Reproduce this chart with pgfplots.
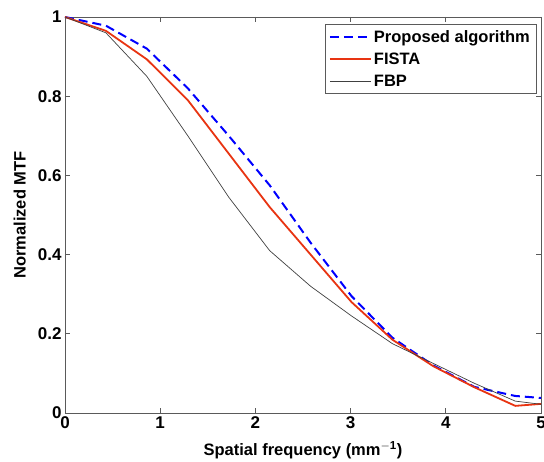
\documentclass[border=0pt]{standalone}
\usepackage{pgfplots}
\pgfplotsset{compat=1.18}
\usepackage{fontspec}
\setmainfont{Liberation Sans}
\definecolor{mblue}{RGB}{0,0,255}
\definecolor{mred}{RGB}{232,52,18}
\definecolor{axgray}{RGB}{90,90,90}
\begin{document}
\begin{tikzpicture}
\begin{axis}[
  at={(0pt,0pt)}, anchor=south west,
  scale only axis, width=476pt, height=396pt,
  xmin=0, xmax=5, ymin=0, ymax=1,
  xtick={0,1,2,3,4,5}, ytick={0,0.2,0.4,0.6,0.8,1},
  tick align=inside, major tick length=5pt,
  axis line style={axgray, line width=0.8pt},
  every tick/.style={axgray, line width=0.8pt},
  /pgf/number format/assume math mode=true,
  tick label style={font=\fontsize{17}{19}\selectfont\bfseries},
  label style={font=\fontsize{16.5}{19}\selectfont\bfseries},
  xlabel={Spatial frequency (mm$^{\mathbf{-1}}$)},
  ylabel={Normalized MTF},
  xlabel style={at={(axis description cs:0.5,-0.0934)}, anchor=center},
  ylabel style={at={(axis description cs:-0.095,0.5)}, anchor=center},
  legend style={at={(rel axis cs:0.9895,0.982)}, anchor=north east,
    draw=axgray, font=\fontsize{16.5}{19}\selectfont\bfseries,
    inner xsep=4pt, inner ysep=4pt, row sep=5pt},
  legend cell align=left,
  legend image code/.code={\draw[mark repeat=2,mark phase=2] plot coordinates {(0pt,0pt) (20pt,0pt) (41pt,0pt)};},
]
\addplot[mblue, line width=2pt, dash pattern=on 9pt off 5pt] coordinates {
(0,1.0) (0.43,0.978) (0.86,0.92) (1.29,0.82) (1.72,0.70) (2.15,0.575)
(2.58,0.43) (3.01,0.295) (3.44,0.19) (3.87,0.12) (4.30,0.066) (4.73,0.043) (5,0.038)};
\addlegendentry{Proposed algorithm}
\addplot[mred, line width=1.8pt] coordinates {
(0,1.0) (0.43,0.965) (0.86,0.893) (1.29,0.79) (1.72,0.655) (2.15,0.52)
(2.58,0.40) (3.01,0.28) (3.44,0.185) (3.87,0.118) (4.30,0.065) (4.73,0.018) (5,0.023)};
\addlegendentry{FISTA}
\addplot[black!75, line width=0.7pt] coordinates {
(0,1.0) (0.43,0.96) (0.86,0.85) (1.29,0.70) (1.72,0.545) (2.15,0.41)
(2.58,0.32) (3.01,0.245) (3.44,0.175) (3.87,0.125) (4.30,0.075) (4.73,0.03) (5,0.022)};
\addlegendentry{FBP}
\end{axis}
\pgfresetboundingbox
\useasboundingbox (-65pt,-49pt) rectangle (479pt,413pt);
\end{tikzpicture}
\end{document}
